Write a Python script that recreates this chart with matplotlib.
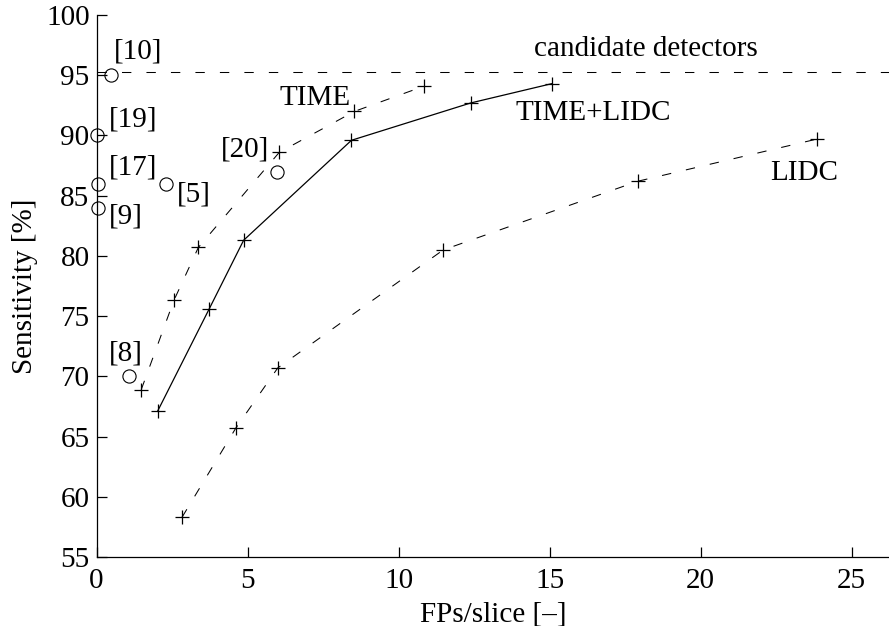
import matplotlib

matplotlib.use("Agg")
import matplotlib.pyplot as plt

plt.rcParams["font.family"] = ["Liberation Serif", "DejaVu Serif"]

# FPs/slice vs sensitivity for the three trained detectors
time_fp = [1.48, 2.56, 3.37, 6.05, 8.54, 10.85]
time_sens = [68.9, 76.3, 80.7, 88.6, 92.0, 94.1]

time_lidc_fp = [2.02, 3.73, 4.87, 8.44, 12.39, 15.07]
time_lidc_sens = [67.1, 75.6, 81.3, 89.6, 92.7, 94.3]

lidc_fp = [2.83, 4.61, 6.00, 11.48, 17.92, 23.85]
lidc_sens = [58.3, 65.7, 70.7, 80.5, 86.2, 89.7]

# literature results (circles)
ref_labels = ["[10]", "[19]", "[17]", "[5]", "[9]", "[20]", "[8]"]
ref_fp = [0.47, 0.0, 0.05, 2.30, 0.06, 5.96, 1.06]
ref_sens = [95.0, 90.0, 86.0, 86.0, 84.0, 87.0, 70.0]
# where the label of each reference sits
ref_label_x = [0.58, 0.40, 0.40, 2.65, 0.42, 4.12, 0.42]
ref_label_y = [97.0, 91.3, 87.3, 85.1, 83.3, 88.8, 71.9]

candidate_level = 95.3

FS = 21
DASH = (9, 14.5)

fig = plt.figure(figsize=(8.89, 6.26), dpi=100)
ax = fig.add_axes([0.1086, 0.1102, 0.8915, 0.8658])

ax.axhline(candidate_level, color="k", lw=0.75, dashes=DASH)

ax.plot(time_fp, time_sens, color="k", lw=0.75, dashes=DASH,
        marker="+", ms=10, mew=0.9)
ax.plot(time_lidc_fp, time_lidc_sens, color="k", lw=0.9,
        marker="+", ms=10, mew=0.9)
ax.plot(lidc_fp, lidc_sens, color="k", lw=0.75, dashes=DASH,
        marker="+", ms=10, mew=0.9)

ax.plot(ref_fp, ref_sens, ls="none", marker="o", ms=9.5, mfc="none",
        mec="k", mew=0.8, clip_on=False, zorder=5)
for lab, lx, ly in zip(ref_labels, ref_label_x, ref_label_y):
    ax.text(lx, ly, lab, fontsize=FS, ha="left", va="center")

ax.text(18.2, 97.2, "candidate detectors", fontsize=FS, ha="center", va="center")
ax.text(8.4, 93.1, "TIME", fontsize=FS, ha="right", va="center")
ax.text(13.86, 91.85, "TIME+LIDC", fontsize=FS, ha="left", va="center")
ax.text(22.3, 86.9, "LIDC", fontsize=FS, ha="left", va="center")

ax.set_xlim(0, 26.24)
ax.set_ylim(55, 100)
ax.set_xticks([0, 5, 10, 15, 20, 25])
ax.set_yticks(range(55, 101, 5))
ax.tick_params(direction="in", length=7, width=0.9, labelsize=FS)
ax.tick_params(axis="x", pad=8)
ax.tick_params(axis="y", pad=5)
ax.spines["top"].set_visible(False)
ax.spines["right"].set_visible(False)
ax.spines["left"].set_linewidth(0.9)
ax.spines["bottom"].set_linewidth(0.9)

ax.set_xlabel("FPs/slice [\u2013]", fontsize=FS, labelpad=5)
ax.set_ylabel("Sensitivity [%]", fontsize=FS, labelpad=6)

fig.savefig("out.png", dpi=100)
